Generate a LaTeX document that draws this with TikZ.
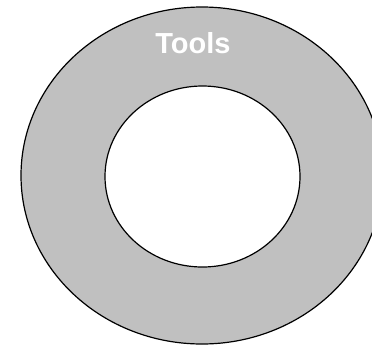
\documentclass[tikz,border=0pt]{standalone}
\usepackage{fontspec}
\setmainfont{Liberation Sans}
\usepackage{xcolor}
\usetikzlibrary{shapes.geometric}

\definecolor{ringgray}{HTML}{C0C0C0}

\begin{document}
\begin{tikzpicture}[
  x=1pt, y=-1pt,
  ring/.style={draw,ellipse,line width=1.2pt,fill=ringgray,inner sep=0pt,minimum width=362pt,minimum height=337pt},
  hole/.style={draw,ellipse,line width=1.2pt,fill=white,inner sep=0pt,minimum width=195pt,minimum height=181pt},
  ringlabel/.style={text=white,font=\bfseries\fontsize{29}{34}\selectfont,inner sep=0pt}
]
  \useasboundingbox (0,0) rectangle (372,346);
  \clip (0,0) rectangle (372,346);
  \node[ring] (tools) at (202,175.5) {};
  \node[hole] (core) at (202.5,176.5) {};
  \node[ringlabel] (toolslabel) at (193,43) {Tools};
\end{tikzpicture}
\end{document}
